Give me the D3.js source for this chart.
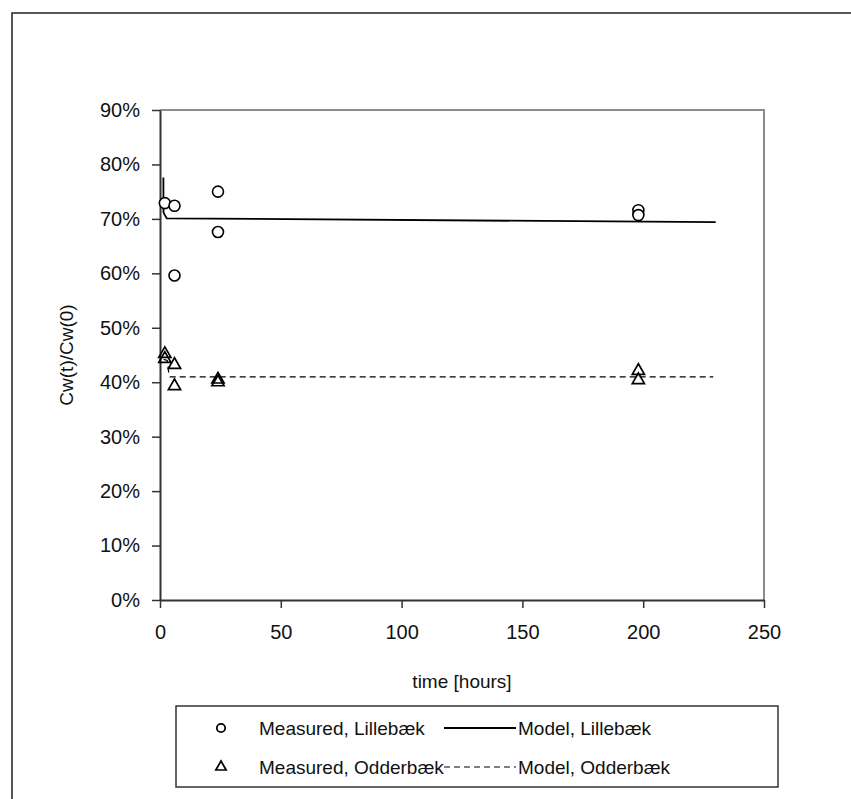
<!DOCTYPE html>
<html><head><meta charset="utf-8">
<script src="https://cdn.jsdelivr.net/npm/d3@7"></script>
<style>
html,body{margin:0;padding:0;background:#fff;}
svg{display:block;font-family:"Liberation Sans",Arial,sans-serif;}
</style></head>
<body><svg id="chart" width="851" height="799"></svg>
<script>
// Measured, Lillebæk
const lilleT = [2, 6, 6, 24, 24, 198, 198];
const lilleV = [0.729, 0.724, 0.596, 0.750, 0.676, 0.716, 0.707];
// Measured, Odderbæk
const odderT = [2, 2, 6, 6, 24, 24, 198, 198];
const odderV = [0.452, 0.443, 0.432, 0.393, 0.405, 0.400, 0.421, 0.404];
// Model, Lillebæk
const modelLT = [1.4, 1.45, 2.0, 2.8, 230];
const modelLV = [0.776, 0.712, 0.707, 0.701, 0.694];
// Model, Odderbæk
const modelOT = [1.5, 3.0, 3.6, 4.2, 229];
const modelOV = [0.442, 0.440, 0.418, 0.410, 0.410];
// Axis ticks
const xTicks = [0, 50, 100, 150, 200, 250];
const yTicks = [0, 0.1, 0.2, 0.3, 0.4, 0.5, 0.6, 0.7, 0.8, 0.9];
const xTitle = "time [hours]";
const yTitle = "Cw(t)/Cw(0)";
const legendItems = [
  {label:"Measured, Lillebæk", kind:"circle"},
  {label:"Model, Lillebæk", kind:"solid"},
  {label:"Measured, Odderbæk", kind:"triangle"},
  {label:"Model, Odderbæk", kind:"dashed"}
];

const svg = d3.select("#chart");
const L = 160, R = 764, T = 110, B = 600;
const x = d3.scaleLinear().domain([0, 250]).range([L, R]);
const y = d3.scaleLinear().domain([0, 0.9]).range([B, T]);
const FS = 19, FT = 20;

// outer frame
svg.append("rect").attr("x", 12).attr("y", 13).attr("width", 900).attr("height", 900)
  .attr("fill", "none").attr("stroke", "#222").attr("stroke-width", 1.5);

// plot frame top/right (grey)
svg.append("path").attr("d", `M${L},${T}H${R}V${B}`)
  .attr("fill", "none").attr("stroke", "#8c8c8c").attr("stroke-width", 2);

// axes
const yAxis = d3.axisLeft(y).tickValues(yTicks).tickFormat(d3.format(".0%")).tickSizeOuter(0).tickSizeInner(8).tickPadding(12);
const gy = svg.append("g").attr("transform", `translate(${L},0)`).call(yAxis);
const xAxis = d3.axisBottom(x).tickValues(xTicks).tickFormat(d3.format("d")).tickSizeOuter(0).tickSizeInner(8).tickPadding(17);
const gx = svg.append("g").attr("transform", `translate(0,${B})`).call(xAxis);
[gx, gy].forEach(g => {
  g.select(".domain").attr("stroke", "#333").attr("stroke-width", 2);
  g.selectAll(".tick line").attr("stroke", "#333").attr("stroke-width", 1.5);
  g.selectAll(".tick text").attr("font-size", FT).attr("fill", "#111")
    .attr("font-family", '"Liberation Sans",Arial,sans-serif');
});

// titles
svg.append("text").attr("x", (L + R) / 2).attr("y", 688).attr("text-anchor", "middle")
  .attr("font-size", FS).attr("fill", "#111").text(xTitle);
svg.append("text").attr("transform", `translate(73,${(T + B) / 2}) rotate(-90)`)
  .attr("text-anchor", "middle").attr("font-size", FS).attr("fill", "#111").text(yTitle);

// model lines
const line = d3.line().x(d => x(d[0])).y(d => y(d[1]));
svg.append("path").datum(modelLT.map((t, i) => [t, modelLV[i]])).attr("d", line)
  .attr("fill", "none").attr("stroke", "#000").attr("stroke-width", 1.8);
svg.append("path").datum(modelOT.map((t, i) => [t, modelOV[i]])).attr("d", line)
  .attr("fill", "none").attr("stroke", "#000").attr("stroke-width", 1.2).attr("stroke-dasharray", "6,4");

// markers
const tri = d3.symbol().type(d3.symbolTriangle).size(64);
svg.append("g").selectAll("path").data(odderT.map((t, i) => [t, odderV[i]])).join("path")
  .attr("d", tri).attr("transform", d => `translate(${x(d[0])},${y(d[1])})`)
  .attr("fill", "none").attr("stroke", "#000").attr("stroke-width", 1.7);
svg.append("g").selectAll("circle").data(lilleT.map((t, i) => [t, lilleV[i]])).join("circle")
  .attr("cx", d => x(d[0])).attr("cy", d => y(d[1])).attr("r", 5.5)
  .attr("fill", "#fff").attr("stroke", "#000").attr("stroke-width", 1.6);

// legend
const lg = svg.append("g");
lg.append("rect").attr("x", 176).attr("y", 706).attr("width", 602).attr("height", 81)
  .attr("fill", "#fff").attr("stroke", "#333").attr("stroke-width", 1.5);
const rowY = [728, 767];
const colMarkerX = [221, 444];
legendItems.forEach((it, i) => {
  const row = Math.floor(i / 2), col = i % 2;
  const cy = rowY[row];
  if (it.kind === "circle") {
    lg.append("circle").attr("cx", colMarkerX[0]).attr("cy", cy).attr("r", 4.2)
      .attr("fill", "none").attr("stroke", "#000").attr("stroke-width", 1.8);
  } else if (it.kind === "triangle") {
    lg.append("path").attr("d", d3.symbol().type(d3.symbolTriangle).size(46)())
      .attr("transform", `translate(${colMarkerX[0]},${cy})`)
      .attr("fill", "none").attr("stroke", "#000").attr("stroke-width", 1.7);
  } else {
    lg.append("line").attr("x1", colMarkerX[1]).attr("x2", colMarkerX[1] + 72)
      .attr("y1", cy).attr("y2", cy).attr("stroke", "#000")
      .attr("stroke-width", it.kind === "solid" ? 1.8 : 1.2)
      .attr("stroke-dasharray", it.kind === "dashed" ? "6,4" : null);
  }
  const tx = col === 0 ? 259 : 518;
  lg.append("text").attr("x", tx).attr("y", cy).attr("dy", "0.35em")
    .attr("font-size", FS).attr("fill", "#111").text(it.label);
});
</script></body></html>
